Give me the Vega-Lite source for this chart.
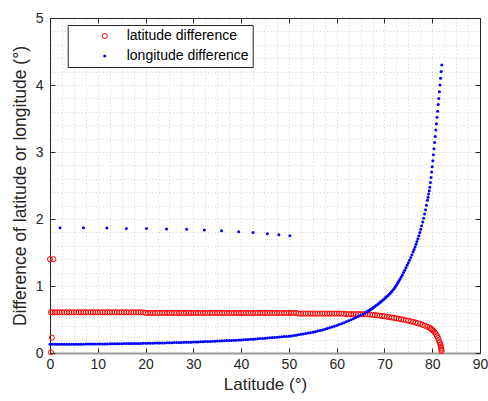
{
"$schema": "https://vega.github.io/schema/vega-lite/v6.json",
"width": 430, "height": 335,
"autosize": {"type": "none"},
"padding": {"left": 50, "top": 18, "right": 8, "bottom": 48},
"background": "white",
"config": {"view": {"stroke": null}, "font": "Liberation Sans",
  "legend": {"orient": "none", "legendX": 17.7, "legendY": 7, "strokeColor": "#262626", "fillColor": "white", "padding": 4, "rowPadding": 6, "symbolOffset": 26, "labelOffset": 15, "labelFontSize": 14, "labelColor": "#000000", "symbolType": "circle", "symbolStrokeWidth": 1, "cornerRadius": 0}},
"data": {"values": [
{"lat":0,"d":1.4,"s":"a"},{"lat":0.7,"d":1.4,"s":"a"},{"lat":0.4,"d":0.23,"s":"a"},{"lat":0.2,"d":0.01,"s":"a"},
{"lat":0.2,"d":0.607,"s":"a"},{"lat":0.5,"d":0.607,"s":"a"},{"lat":1,"d":0.607,"s":"a"},{"lat":1.5,"d":0.607,"s":"a"},{"lat":2,"d":0.607,"s":"a"},{"lat":2.5,"d":0.607,"s":"a"},{"lat":3,"d":0.607,"s":"a"},{"lat":3.5,"d":0.607,"s":"a"},{"lat":4,"d":0.607,"s":"a"},{"lat":4.5,"d":0.607,"s":"a"},{"lat":5,"d":0.607,"s":"a"},{"lat":5.5,"d":0.607,"s":"a"},{"lat":6,"d":0.607,"s":"a"},{"lat":6.5,"d":0.607,"s":"a"},{"lat":7,"d":0.607,"s":"a"},{"lat":7.5,"d":0.607,"s":"a"},{"lat":8,"d":0.607,"s":"a"},{"lat":8.5,"d":0.607,"s":"a"},{"lat":9,"d":0.607,"s":"a"},{"lat":9.5,"d":0.607,"s":"a"},{"lat":10,"d":0.607,"s":"a"},{"lat":10.5,"d":0.607,"s":"a"},{"lat":11,"d":0.607,"s":"a"},{"lat":11.5,"d":0.607,"s":"a"},{"lat":12,"d":0.607,"s":"a"},{"lat":12.5,"d":0.607,"s":"a"},{"lat":13,"d":0.607,"s":"a"},{"lat":13.5,"d":0.607,"s":"a"},{"lat":14,"d":0.607,"s":"a"},{"lat":14.5,"d":0.607,"s":"a"},{"lat":15,"d":0.607,"s":"a"},{"lat":15.5,"d":0.607,"s":"a"},{"lat":16,"d":0.607,"s":"a"},{"lat":16.5,"d":0.607,"s":"a"},{"lat":17,"d":0.607,"s":"a"},{"lat":17.5,"d":0.607,"s":"a"},{"lat":18,"d":0.607,"s":"a"},{"lat":18.5,"d":0.607,"s":"a"},{"lat":19,"d":0.607,"s":"a"},{"lat":19.5,"d":0.607,"s":"a"},
{"lat":20,"d":0.598,"s":"a"},{"lat":20.5,"d":0.598,"s":"a"},{"lat":21,"d":0.598,"s":"a"},{"lat":21.5,"d":0.598,"s":"a"},{"lat":22,"d":0.598,"s":"a"},{"lat":22.5,"d":0.598,"s":"a"},{"lat":23,"d":0.598,"s":"a"},{"lat":23.5,"d":0.598,"s":"a"},{"lat":24,"d":0.598,"s":"a"},{"lat":24.5,"d":0.598,"s":"a"},{"lat":25,"d":0.598,"s":"a"},{"lat":25.5,"d":0.598,"s":"a"},{"lat":26,"d":0.598,"s":"a"},{"lat":26.5,"d":0.598,"s":"a"},{"lat":27,"d":0.598,"s":"a"},{"lat":27.5,"d":0.598,"s":"a"},{"lat":28,"d":0.598,"s":"a"},{"lat":28.5,"d":0.598,"s":"a"},{"lat":29,"d":0.598,"s":"a"},{"lat":29.5,"d":0.598,"s":"a"},{"lat":30,"d":0.598,"s":"a"},{"lat":30.5,"d":0.598,"s":"a"},{"lat":31,"d":0.598,"s":"a"},{"lat":31.5,"d":0.598,"s":"a"},{"lat":32,"d":0.598,"s":"a"},{"lat":32.5,"d":0.598,"s":"a"},{"lat":33,"d":0.598,"s":"a"},{"lat":33.5,"d":0.598,"s":"a"},{"lat":34,"d":0.598,"s":"a"},{"lat":34.5,"d":0.598,"s":"a"},{"lat":35,"d":0.598,"s":"a"},{"lat":35.5,"d":0.598,"s":"a"},{"lat":36,"d":0.598,"s":"a"},{"lat":36.5,"d":0.598,"s":"a"},{"lat":37,"d":0.598,"s":"a"},{"lat":37.5,"d":0.598,"s":"a"},{"lat":38,"d":0.598,"s":"a"},{"lat":38.5,"d":0.598,"s":"a"},{"lat":39,"d":0.598,"s":"a"},{"lat":39.5,"d":0.598,"s":"a"},{"lat":40,"d":0.598,"s":"a"},{"lat":40.5,"d":0.598,"s":"a"},{"lat":41,"d":0.598,"s":"a"},{"lat":41.5,"d":0.598,"s":"a"},{"lat":42,"d":0.598,"s":"a"},{"lat":42.5,"d":0.598,"s":"a"},{"lat":43,"d":0.598,"s":"a"},{"lat":43.5,"d":0.598,"s":"a"},{"lat":44,"d":0.598,"s":"a"},{"lat":44.5,"d":0.598,"s":"a"},{"lat":45,"d":0.598,"s":"a"},{"lat":45.5,"d":0.598,"s":"a"},{"lat":46,"d":0.598,"s":"a"},{"lat":46.5,"d":0.598,"s":"a"},{"lat":47,"d":0.598,"s":"a"},{"lat":47.5,"d":0.598,"s":"a"},{"lat":48,"d":0.598,"s":"a"},{"lat":48.5,"d":0.598,"s":"a"},{"lat":49,"d":0.598,"s":"a"},{"lat":49.5,"d":0.598,"s":"a"},{"lat":50,"d":0.598,"s":"a"},{"lat":50.5,"d":0.598,"s":"a"},{"lat":51,"d":0.598,"s":"a"},{"lat":51.5,"d":0.598,"s":"a"},
{"lat":52,"d":0.588,"s":"a"},{"lat":52.5,"d":0.588,"s":"a"},{"lat":53,"d":0.588,"s":"a"},{"lat":53.5,"d":0.588,"s":"a"},{"lat":54,"d":0.588,"s":"a"},{"lat":54.5,"d":0.588,"s":"a"},{"lat":55,"d":0.588,"s":"a"},{"lat":55.5,"d":0.588,"s":"a"},{"lat":56,"d":0.588,"s":"a"},{"lat":56.5,"d":0.588,"s":"a"},{"lat":57,"d":0.588,"s":"a"},{"lat":57.5,"d":0.588,"s":"a"},{"lat":58,"d":0.588,"s":"a"},{"lat":58.5,"d":0.588,"s":"a"},{"lat":59,"d":0.588,"s":"a"},{"lat":59.5,"d":0.588,"s":"a"},{"lat":60,"d":0.588,"s":"a"},{"lat":60.5,"d":0.588,"s":"a"},{"lat":61,"d":0.588,"s":"a"},{"lat":61.5,"d":0.588,"s":"a"},
{"lat":62,"d":0.58,"s":"a"},{"lat":62.5,"d":0.58,"s":"a"},{"lat":63,"d":0.58,"s":"a"},{"lat":63.5,"d":0.58,"s":"a"},{"lat":64,"d":0.58,"s":"a"},{"lat":64.5,"d":0.58,"s":"a"},{"lat":65,"d":0.58,"s":"a"},{"lat":65.5,"d":0.58,"s":"a"},{"lat":66,"d":0.579,"s":"a"},
{"lat":66.5,"d":0.577,"s":"a"},{"lat":67,"d":0.574,"s":"a"},{"lat":67.5,"d":0.57,"s":"a"},{"lat":68,"d":0.566,"s":"a"},{"lat":68.5,"d":0.562,"s":"a"},{"lat":69,"d":0.557,"s":"a"},{"lat":69.5,"d":0.552,"s":"a"},{"lat":70,"d":0.547,"s":"a"},{"lat":70.5,"d":0.541,"s":"a"},{"lat":71,"d":0.536,"s":"a"},{"lat":71.5,"d":0.53,"s":"a"},{"lat":72,"d":0.524,"s":"a"},{"lat":72.5,"d":0.517,"s":"a"},{"lat":73,"d":0.511,"s":"a"},{"lat":73.5,"d":0.504,"s":"a"},{"lat":74,"d":0.497,"s":"a"},{"lat":74.5,"d":0.489,"s":"a"},{"lat":75,"d":0.481,"s":"a"},{"lat":75.5,"d":0.473,"s":"a"},{"lat":76,"d":0.464,"s":"a"},{"lat":76.5,"d":0.454,"s":"a"},{"lat":77,"d":0.444,"s":"a"},{"lat":77.5,"d":0.433,"s":"a"},{"lat":78,"d":0.421,"s":"a"},{"lat":78.5,"d":0.407,"s":"a"},{"lat":79,"d":0.392,"s":"a"},{"lat":79.5,"d":0.375,"s":"a"},{"lat":79.75,"d":0.362,"s":"a"},{"lat":80,"d":0.347,"s":"a"},{"lat":80.25,"d":0.33,"s":"a"},{"lat":80.5,"d":0.31,"s":"a"},{"lat":80.75,"d":0.285,"s":"a"},{"lat":81,"d":0.255,"s":"a"},{"lat":81.2,"d":0.225,"s":"a"},{"lat":81.4,"d":0.19,"s":"a"},{"lat":81.55,"d":0.16,"s":"a"},{"lat":81.7,"d":0.13,"s":"a"},{"lat":81.8,"d":0.1,"s":"a"},{"lat":81.87,"d":0.075,"s":"a"},{"lat":81.92,"d":0.05,"s":"a"},{"lat":81.95,"d":0.03,"s":"a"},
{"lat":2.1,"d":1.87,"s":"o"},{"lat":7,"d":1.87,"s":"o"},{"lat":11.9,"d":1.865,"s":"o"},{"lat":16,"d":1.86,"s":"o"},{"lat":20.2,"d":1.858,"s":"o"},{"lat":24.4,"d":1.851,"s":"o"},{"lat":28.6,"d":1.846,"s":"o"},{"lat":32.3,"d":1.836,"s":"o"},{"lat":35.9,"d":1.825,"s":"o"},{"lat":39.5,"d":1.81,"s":"o"},{"lat":42.5,"d":1.8,"s":"o"},{"lat":45.5,"d":1.78,"s":"o"},{"lat":47.9,"d":1.765,"s":"o"},{"lat":50.2,"d":1.75,"s":"o"},
{"lat":0,"d":0.13,"s":"o"},{"lat":0.5,"d":0.13,"s":"o"},{"lat":1,"d":0.13,"s":"o"},{"lat":1.5,"d":0.13,"s":"o"},{"lat":2,"d":0.131,"s":"o"},{"lat":2.5,"d":0.131,"s":"o"},{"lat":3,"d":0.131,"s":"o"},{"lat":3.5,"d":0.131,"s":"o"},{"lat":4,"d":0.131,"s":"o"},{"lat":4.5,"d":0.131,"s":"o"},{"lat":5,"d":0.131,"s":"o"},{"lat":5.5,"d":0.132,"s":"o"},{"lat":6,"d":0.132,"s":"o"},{"lat":6.5,"d":0.132,"s":"o"},{"lat":7,"d":0.132,"s":"o"},{"lat":7.5,"d":0.133,"s":"o"},{"lat":8,"d":0.133,"s":"o"},{"lat":8.5,"d":0.133,"s":"o"},{"lat":9,"d":0.134,"s":"o"},{"lat":9.5,"d":0.134,"s":"o"},{"lat":10,"d":0.134,"s":"o"},
{"lat":10.5,"d":0.135,"s":"o"},{"lat":11,"d":0.135,"s":"o"},{"lat":11.5,"d":0.136,"s":"o"},{"lat":12,"d":0.136,"s":"o"},{"lat":12.5,"d":0.137,"s":"o"},{"lat":13,"d":0.137,"s":"o"},{"lat":13.5,"d":0.138,"s":"o"},{"lat":14,"d":0.138,"s":"o"},{"lat":14.5,"d":0.139,"s":"o"},{"lat":15,"d":0.139,"s":"o"},{"lat":15.5,"d":0.14,"s":"o"},{"lat":16,"d":0.14,"s":"o"},{"lat":16.5,"d":0.141,"s":"o"},{"lat":17,"d":0.141,"s":"o"},{"lat":17.5,"d":0.142,"s":"o"},{"lat":18,"d":0.142,"s":"o"},{"lat":18.5,"d":0.143,"s":"o"},{"lat":19,"d":0.143,"s":"o"},{"lat":19.5,"d":0.144,"s":"o"},{"lat":20,"d":0.144,"s":"o"},
{"lat":20.5,"d":0.145,"s":"o"},{"lat":21,"d":0.146,"s":"o"},{"lat":21.5,"d":0.147,"s":"o"},{"lat":22,"d":0.148,"s":"o"},{"lat":22.5,"d":0.149,"s":"o"},{"lat":23,"d":0.15,"s":"o"},{"lat":23.5,"d":0.15,"s":"o"},{"lat":24,"d":0.151,"s":"o"},{"lat":24.5,"d":0.152,"s":"o"},{"lat":25,"d":0.153,"s":"o"},{"lat":25.5,"d":0.154,"s":"o"},{"lat":26,"d":0.155,"s":"o"},{"lat":26.5,"d":0.156,"s":"o"},{"lat":27,"d":0.157,"s":"o"},{"lat":27.5,"d":0.158,"s":"o"},{"lat":28,"d":0.159,"s":"o"},{"lat":28.5,"d":0.16,"s":"o"},{"lat":29,"d":0.161,"s":"o"},{"lat":29.5,"d":0.162,"s":"o"},{"lat":30,"d":0.163,"s":"o"},
{"lat":30.5,"d":0.164,"s":"o"},{"lat":31,"d":0.166,"s":"o"},{"lat":31.5,"d":0.167,"s":"o"},{"lat":32,"d":0.169,"s":"o"},{"lat":32.5,"d":0.17,"s":"o"},{"lat":33,"d":0.172,"s":"o"},{"lat":33.5,"d":0.173,"s":"o"},{"lat":34,"d":0.175,"s":"o"},{"lat":34.5,"d":0.176,"s":"o"},{"lat":35,"d":0.178,"s":"o"},{"lat":35.5,"d":0.18,"s":"o"},{"lat":36,"d":0.181,"s":"o"},{"lat":36.5,"d":0.183,"s":"o"},{"lat":37,"d":0.185,"s":"o"},{"lat":37.5,"d":0.186,"s":"o"},{"lat":38,"d":0.188,"s":"o"},{"lat":38.5,"d":0.19,"s":"o"},{"lat":39,"d":0.191,"s":"o"},{"lat":39.5,"d":0.193,"s":"o"},{"lat":40,"d":0.195,"s":"o"},
{"lat":40.5,"d":0.197,"s":"o"},{"lat":41,"d":0.2,"s":"o"},{"lat":41.5,"d":0.202,"s":"o"},{"lat":42,"d":0.205,"s":"o"},{"lat":42.5,"d":0.207,"s":"o"},{"lat":43,"d":0.21,"s":"o"},{"lat":43.5,"d":0.212,"s":"o"},{"lat":44,"d":0.215,"s":"o"},{"lat":44.5,"d":0.218,"s":"o"},{"lat":45,"d":0.221,"s":"o"},{"lat":45.5,"d":0.224,"s":"o"},{"lat":46,"d":0.227,"s":"o"},{"lat":46.5,"d":0.23,"s":"o"},{"lat":47,"d":0.233,"s":"o"},{"lat":47.5,"d":0.236,"s":"o"},{"lat":48,"d":0.239,"s":"o"},{"lat":48.5,"d":0.242,"s":"o"},{"lat":49,"d":0.245,"s":"o"},{"lat":49.5,"d":0.248,"s":"o"},{"lat":50,"d":0.25,"s":"o"},
{"lat":50.5,"d":0.255,"s":"o"},{"lat":51,"d":0.26,"s":"o"},{"lat":51.5,"d":0.266,"s":"o"},{"lat":52,"d":0.272,"s":"o"},{"lat":52.5,"d":0.278,"s":"o"},{"lat":53,"d":0.284,"s":"o"},{"lat":53.5,"d":0.29,"s":"o"},{"lat":54,"d":0.297,"s":"o"},{"lat":54.5,"d":0.304,"s":"o"},{"lat":55,"d":0.311,"s":"o"},{"lat":55.5,"d":0.319,"s":"o"},{"lat":56,"d":0.327,"s":"o"},{"lat":56.5,"d":0.335,"s":"o"},{"lat":57,"d":0.344,"s":"o"},{"lat":57.5,"d":0.354,"s":"o"},{"lat":58,"d":0.365,"s":"o"},{"lat":58.5,"d":0.376,"s":"o"},{"lat":59,"d":0.387,"s":"o"},{"lat":59.5,"d":0.399,"s":"o"},{"lat":60,"d":0.412,"s":"o"},
{"lat":60.5,"d":0.425,"s":"o"},{"lat":61,"d":0.438,"s":"o"},{"lat":61.5,"d":0.452,"s":"o"},{"lat":62,"d":0.466,"s":"o"},{"lat":62.5,"d":0.481,"s":"o"},{"lat":63,"d":0.496,"s":"o"},{"lat":63.5,"d":0.512,"s":"o"},{"lat":64,"d":0.528,"s":"o"},{"lat":64.5,"d":0.545,"s":"o"},{"lat":65,"d":0.562,"s":"o"},{"lat":65.5,"d":0.58,"s":"o"},{"lat":66,"d":0.6,"s":"o"},
{"lat":66.25,"d":0.611,"s":"o"},{"lat":66.5,"d":0.622,"s":"o"},{"lat":66.75,"d":0.633,"s":"o"},{"lat":67,"d":0.645,"s":"o"},{"lat":67.25,"d":0.657,"s":"o"},{"lat":67.5,"d":0.669,"s":"o"},{"lat":67.75,"d":0.682,"s":"o"},{"lat":68,"d":0.695,"s":"o"},{"lat":68.25,"d":0.708,"s":"o"},{"lat":68.5,"d":0.722,"s":"o"},{"lat":68.75,"d":0.736,"s":"o"},{"lat":69,"d":0.75,"s":"o"},{"lat":69.25,"d":0.765,"s":"o"},{"lat":69.5,"d":0.78,"s":"o"},{"lat":69.75,"d":0.795,"s":"o"},{"lat":70,"d":0.811,"s":"o"},{"lat":70.25,"d":0.827,"s":"o"},{"lat":70.5,"d":0.843,"s":"o"},{"lat":70.75,"d":0.86,"s":"o"},{"lat":71,"d":0.877,"s":"o"},{"lat":71.25,"d":0.895,"s":"o"},{"lat":71.5,"d":0.913,"s":"o"},{"lat":71.75,"d":0.936,"s":"o"},{"lat":72,"d":0.96,"s":"o"},
{"lat":72.25,"d":0.985,"s":"o"},{"lat":72.5,"d":1.012,"s":"o"},{"lat":72.75,"d":1.04,"s":"o"},{"lat":73,"d":1.07,"s":"o"},{"lat":73.25,"d":1.101,"s":"o"},{"lat":73.5,"d":1.133,"s":"o"},{"lat":73.75,"d":1.166,"s":"o"},{"lat":74,"d":1.2,"s":"o"},{"lat":74.25,"d":1.235,"s":"o"},{"lat":74.5,"d":1.271,"s":"o"},{"lat":74.75,"d":1.308,"s":"o"},{"lat":75,"d":1.346,"s":"o"},{"lat":75.25,"d":1.385,"s":"o"},{"lat":75.5,"d":1.425,"s":"o"},{"lat":75.75,"d":1.467,"s":"o"},{"lat":76,"d":1.51,"s":"o"},
{"lat":76.2,"d":1.546,"s":"o"},{"lat":76.4,"d":1.583,"s":"o"},{"lat":76.6,"d":1.622,"s":"o"},{"lat":76.8,"d":1.663,"s":"o"},{"lat":77,"d":1.706,"s":"o"},{"lat":77.2,"d":1.751,"s":"o"},{"lat":77.4,"d":1.798,"s":"o"},{"lat":77.6,"d":1.848,"s":"o"},{"lat":77.8,"d":1.9,"s":"o"},{"lat":78,"d":1.955,"s":"o"},{"lat":78.2,"d":2.013,"s":"o"},{"lat":78.4,"d":2.074,"s":"o"},{"lat":78.6,"d":2.138,"s":"o"},{"lat":78.8,"d":2.206,"s":"o"},{"lat":79,"d":2.278,"s":"o"},
{"lat":79.125,"d":2.325,"s":"o"},{"lat":79.25,"d":2.373,"s":"o"},{"lat":79.375,"d":2.423,"s":"o"},{"lat":79.5,"d":2.475,"s":"o"},{"lat":79.625,"d":2.545,"s":"o"},{"lat":79.75,"d":2.62,"s":"o"},{"lat":79.875,"d":2.7,"s":"o"},{"lat":80,"d":2.78,"s":"o"},{"lat":80.125,"d":2.87,"s":"o"},{"lat":80.25,"d":2.96,"s":"o"},{"lat":80.375,"d":3.05,"s":"o"},{"lat":80.5,"d":3.14,"s":"o"},{"lat":80.625,"d":3.23,"s":"o"},{"lat":80.75,"d":3.33,"s":"o"},{"lat":80.875,"d":3.42,"s":"o"},{"lat":81,"d":3.52,"s":"o"},{"lat":81.125,"d":3.61,"s":"o"},{"lat":81.25,"d":3.71,"s":"o"},{"lat":81.375,"d":3.8,"s":"o"},{"lat":81.5,"d":3.9,"s":"o"},{"lat":81.625,"d":4.0,"s":"o"},{"lat":81.75,"d":4.1,"s":"o"},{"lat":81.875,"d":4.2,"s":"o"},{"lat":82,"d":4.3,"s":"o"}
]},
"layer": [
{"mark": {"type": "point", "filled": true, "opacity": 1, "strokeWidth": 1},
 "encoding": {
  "x": {"field": "lat", "type": "quantitative", "scale": {"domain": [0, 90], "nice": false, "zero": false},
    "axis": {"values": [0,2.5,5,7.5,10,12.5,15,17.5,20,22.5,25,27.5,30,32.5,35,37.5,40,42.5,45,47.5,50,52.5,55,57.5,60,62.5,65,67.5,70,72.5,75,77.5,80,82.5,85,87.5,90],
      "labelExpr": "datum.value % 10 === 0 ? format(datum.value, 'd') : ''",
      "tickOpacity": {"condition": {"test": "datum.value % 10 === 0", "value": 1}, "value": 0},
      "tickSize": -5, "tickColor": "#262626", "tickWidth": 1,
      "labelPadding": 9, "labelFontSize": 14, "labelColor": "#262626", "labelFlush": false, "labelOverlap": false,
      "grid": true, "gridColor": "#d6d6d6", "gridDash": [1, 2.5], "gridWidth": 1,
      "domainColor": "#9a9a9a", "domainWidth": 2,
      "title": "Latitude (°)", "titleFontSize": 17, "titleFontWeight": "normal", "titleColor": "#262626", "titlePadding": 5}},
  "y": {"field": "d", "type": "quantitative", "scale": {"domain": [0, 5], "nice": false},
    "axis": {"values": [0,0.2,0.4,0.6,0.8,1,1.2,1.4,1.6,1.8,2,2.2,2.4,2.6,2.8,3,3.2,3.4,3.6,3.8,4,4.2,4.4,4.6,4.8,5],
      "labelExpr": "abs(datum.value - round(datum.value)) < 0.001 ? format(datum.value, 'd') : ''",
      "tickOpacity": {"condition": {"test": "abs(datum.value - round(datum.value)) < 0.001", "value": 1}, "value": 0},
      "tickSize": -5, "tickColor": "#262626", "tickWidth": 1,
      "labelPadding": 12, "labelFontSize": 14, "labelColor": "#262626", "labelOverlap": false, "labelFlush": false,
      "grid": true, "gridColor": "#d6d6d6", "gridDash": [1, 2.5], "gridWidth": 1,
      "domainColor": "#262626", "domainWidth": 1,
      "title": "Difference of latitude or longitude (°)", "titleFontSize": 17.5, "titleFontWeight": "normal", "titleColor": "#262626", "titlePadding": 6}},
  "fill": {"field": "s", "type": "nominal", "scale": {"domain": ["a", "o"], "range": ["transparent", "#0000ff"]},
    "legend": {"title": null, "labelExpr": "datum.value === 'a' ? 'latitude difference' : 'longitude difference'"}},
  "stroke": {"field": "s", "type": "nominal", "scale": {"domain": ["a", "o"], "range": ["#ff0000", "transparent"]},
    "legend": {"title": null, "labelExpr": "datum.value === 'a' ? 'latitude difference' : 'longitude difference'"}},
  "size": {"field": "s", "type": "nominal", "scale": {"type": "ordinal", "domain": ["a", "o"], "range": [26, 9]},
    "legend": {"title": null, "labelExpr": "datum.value === 'a' ? 'latitude difference' : 'longitude difference'"}}
 }},
{"mark": {"type": "point", "opacity": 0},
 "encoding": {
  "x": {"field": "lat", "type": "quantitative", "axis": {"orient": "top", "values": [0,10,20,30,40,50,60,70,80,90], "labels": false, "tickSize": -5, "tickColor": "#262626", "domainColor": "#262626", "grid": false, "title": null}},
  "y": {"field": "d", "type": "quantitative", "axis": {"orient": "right", "values": [0,1,2,3,4,5], "labels": false, "tickSize": -5, "tickColor": "#262626", "domainColor": "#262626", "grid": false, "title": null}}
 }}
],
"resolve": {"axis": {"x": "independent", "y": "independent"}}
}
